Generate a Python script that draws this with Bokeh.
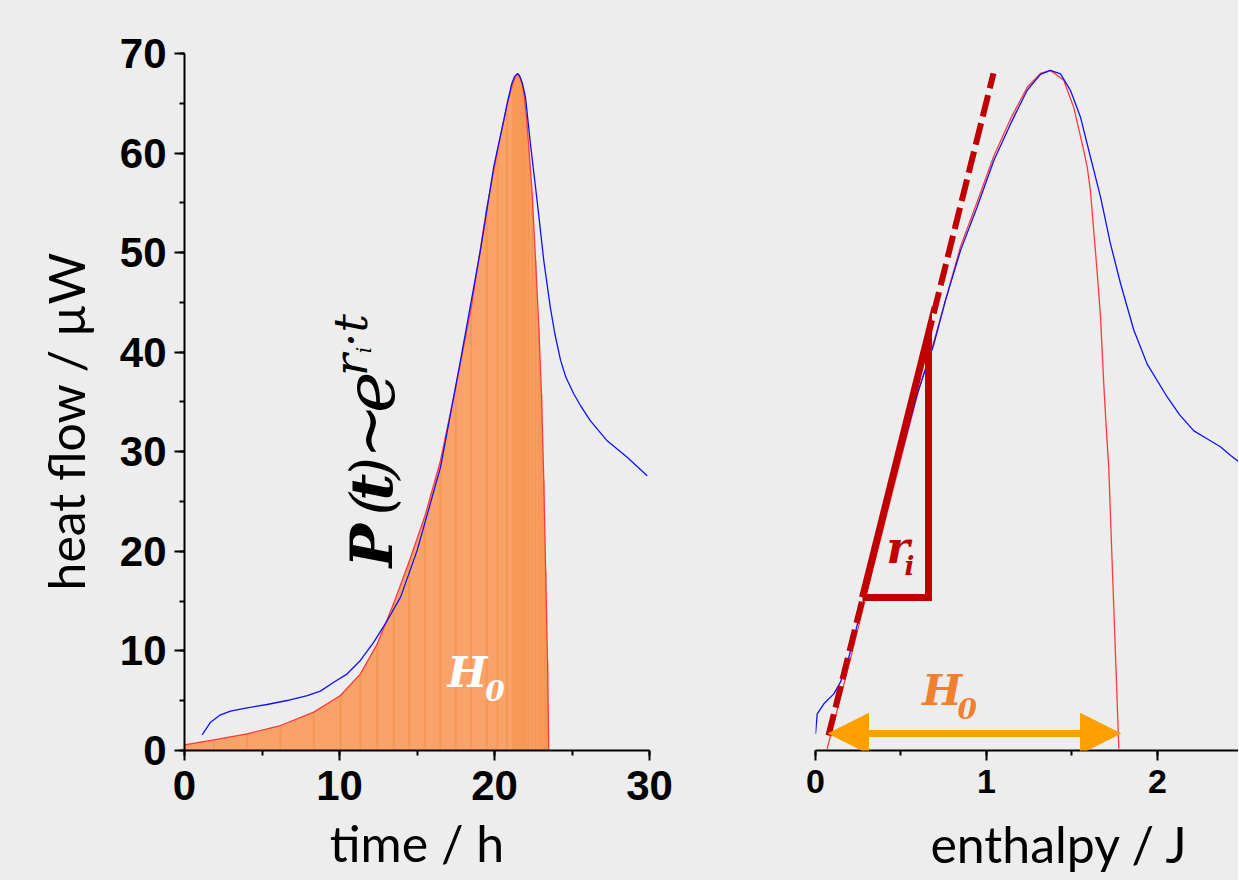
import math
from bokeh.plotting import figure
from bokeh.layouts import row, column
from bokeh.models import Arrow, NormalHead, Range1d, SingleIntervalTicker
from bokeh.embed import file_html
from bokeh.resources import INLINE
from bokeh.core.properties import value

BG = "#ecedec"
BLUE = "#1010ff"
RED = "#ff3a3a"
FILL = "#f9a36a"
DARKRED = "#c00000"
ORANGE = "#ffa000"
HORANGE = "#f08030"

# ---------------- left panel: heat flow vs time ----------------
blue_t = [1.14, 1.68, 2.32, 2.97, 4.04, 5.33, 6.62, 7.92, 8.77, 9.63, 10.5, 11.35, 12.21, 13.08,
          13.94, 15.01, 16.52, 17.81, 19.1, 19.95, 20.6, 20.85, 21.1, 21.3, 21.46, 21.6, 21.8,
          22.0, 22.32, 22.75, 23.18, 23.6, 23.9, 24.26, 24.6, 25.12, 25.6, 26.19, 27.27, 28.56,
          29.85]
blue_p = [1.58, 2.84, 3.58, 3.95, 4.28, 4.62, 5.02, 5.52, 5.96, 6.86, 7.7, 9.04, 10.88, 13.05,
          15.4, 20.1, 28.45, 39.2, 50.3, 58.6, 63.3, 65.2, 66.9, 67.7, 67.95, 67.8, 67.0,
          65.6, 60.9, 55.2, 49.2, 44.5, 41.8, 39.2, 37.5, 35.8, 34.5, 33.1, 31.1, 29.45,
          27.6]

red_t = [0.0, 1.89, 4.04, 6.19, 8.34, 10.06, 11.35, 12.43, 13.5, 14.5, 15.5, 16.5, 17.5, 18.5,
         19.5, 20.2, 20.8, 21.2, 21.35, 21.5, 21.65, 21.8, 21.9, 22.05, 22.2, 22.43, 22.65,
         22.86, 23.03, 23.18, 23.3, 23.42, 23.5]
red_p = [0.57, 1.07, 1.67, 2.51, 3.85, 5.52, 7.7, 10.7, 14.8, 19.0, 23.5, 29.0, 36.5, 44.5,
         54.5, 60.3, 64.8, 67.1, 67.7, 68.0, 67.6, 66.8, 66.0, 63.8, 60.9, 55.9, 49.2,
         42.5, 35.8, 27.1, 18.0, 9.0, 0.0]

# ---------------- right panel: heat flow vs enthalpy ----------------
blue_h = [0.0, 0.01, 0.049, 0.107, 0.146, 0.185, 0.283, 0.439, 0.595, 0.692, 0.76, 0.848, 0.946,
          1.043, 1.14, 1.238, 1.316, 1.374, 1.433, 1.491, 1.55, 1.608, 1.667, 1.725, 1.784,
          1.862, 1.94, 2.057, 2.13, 2.213, 2.29, 2.368, 2.43, 2.48]
blue_hp = [1.67, 3.68, 4.69, 5.69, 6.86, 8.7, 15.2, 25.8, 35.8, 40.8, 45.2, 50.2, 54.6,
           59.25, 62.9, 66.3, 67.9, 68.3, 67.95, 66.3, 63.6, 59.6, 55.6, 50.9, 46.9,
           42.2, 38.8, 35.5, 33.7, 32.1, 31.3, 30.5, 29.6, 28.95]

red_h = [0.068, 0.2, 0.3, 0.45, 0.6, 0.7, 0.848, 0.946, 1.043, 1.14, 1.238, 1.316, 1.374, 1.452,
         1.51, 1.569, 1.59, 1.608, 1.637, 1.652, 1.667, 1.686, 1.70, 1.715, 1.74, 1.76, 1.774]
red_hp = [0.17, 8.9, 15.8, 26.0, 36.0, 41.5, 50.6, 55.1, 59.7, 63.4, 66.6, 68.0, 68.3, 67.3,
          64.6, 60.25, 58.5, 56.2, 50.2, 47.0, 43.5, 36.8, 32.5, 28.45, 16.5, 7.0, 0.17]

slope_h = [0.076, 1.041]
slope_p = [1.5, 68.0]
tri_h = [0.275, 0.661, 0.661, 0.275]
tri_p = [15.37, 41.88, 15.37, 15.37]
arrow_h = [0.076, 1.784]
arrow_p = 1.71

y_range = Range1d(0, 71.3)
x2_range = Range1d(0, 2.474)


def style(p):
    p.background_fill_color = BG
    p.border_fill_color = BG
    p.outline_line_color = None
    p.grid.grid_line_color = None
    for ax in p.axis:
        ax.axis_line_width = 2
        ax.axis_line_color = "black"
        ax.major_tick_line_width = 2
        ax.minor_tick_line_width = 2
        ax.major_tick_in = 0
        ax.major_tick_out = 10
        ax.minor_tick_in = 0
        ax.minor_tick_out = 5
        ax.major_label_text_font = "Liberation Sans"
        ax.major_label_text_font_style = "bold"
        ax.major_label_text_color = "black"
        ax.axis_label_text_font = "Lato"
        ax.axis_label_text_font_style = "normal"
        ax.axis_label_text_color = "black"


def blank(w, h, xr, yr):
    f = figure(width=w, height=h, x_range=xr, y_range=yr,
               output_backend="svg", toolbar_location=None, x_axis_location=None,
               y_axis_location=None, min_border=0)
    f.background_fill_color = BG
    f.border_fill_color = BG
    f.outline_line_color = None
    f.grid.grid_line_color = None
    return f


# ---- y-axis title strip (shares the y range of the panels) ----
lab1 = blank(100, 880, Range1d(0, 100), y_range)
lab1.text(x=[65], y=[16.07], text=["heat flow / µW"], angle=math.pi / 2,
          text_font=value("Lato"), text_font_size="50px", text_align="left",
          text_baseline="middle", text_color="black")

# ---- left figure ----
p1 = figure(width=589, height=880, x_range=Range1d(0, 30), y_range=y_range,
            output_backend="svg", toolbar_location=None,
            min_border_left=84, min_border_right=40, min_border_top=40, min_border_bottom=130)
style(p1)
p1.xaxis.ticker = SingleIntervalTicker(interval=10, num_minor_ticks=2)
p1.yaxis.ticker = SingleIntervalTicker(interval=10, num_minor_ticks=2)
p1.yaxis.bounds = (0, 70)
p1.axis.major_label_text_font_size = "42px"
p1.yaxis.major_label_standoff = 8
p1.xaxis.major_label_standoff = 10
p1.xaxis.axis_label = "time / h"
p1.xaxis.axis_label_text_font_size = "50px"
p1.xaxis.axis_label_standoff = 10

p1.varea(x=red_t, y1=[0] * len(red_t), y2=red_p, fill_color=FILL, fill_alpha=1.0)
p1.segment(x0=red_t, y0=[0] * len(red_t), x1=red_t, y1=red_p, line_color="#f7924c",
           line_width=2, line_alpha=0.7)
p1.line(red_t, red_p, line_color=RED, line_width=1.3)
p1.line(blue_t, blue_p, line_color=BLUE, line_width=1.3)

serif = value("DejaVu Serif")
p1.text(x=[12.1, 12.1, 12.1, 12.1, 11.95, 11.9], y=[18.38, 23.6, 25.1, 27.2, 29.3, 33.9],
        text=["P", "(", "t", ")", "~", "e"], angle=math.pi / 2, text_font=serif,
        text_font_style=["bold italic", "italic", "bold italic", "italic", "italic", "italic"],
        text_font_size=["58px", "58px", "58px", "58px", "66px", "70px"], text_align="left",
        text_baseline="alphabetic", text_color="black")
p1.text(x=[10.71, 11.61, 10.71], y=[37.6, 39.9, 40.5], text=["r", "i", "·t"],
        angle=math.pi / 2, text_font=serif, text_font_style="italic",
        text_font_size=["46px", "20px", "46px"], text_align="left",
        text_baseline="alphabetic", text_color="black")
p1.text(x=[16.97, 19.4], y=[7.83, 6.02], text=["H", "0"], text_font=serif,
        text_font_style="bold italic", text_font_size=["42px", "28px"], text_align="left",
        text_baseline="alphabetic", text_color="white")

# ---- right figure ----
p2 = figure(width=549, height=810, x_range=x2_range, y_range=y_range,
            output_backend="svg", toolbar_location=None, y_axis_location=None,
            min_border_left=126, min_border_right=0, min_border_top=40, min_border_bottom=60)
style(p2)
p2.xaxis.ticker = SingleIntervalTicker(interval=1, num_minor_ticks=2)
p2.xaxis.major_label_text_font_size = "34px"
p2.xaxis.major_label_standoff = 9

p2.line(red_h, red_hp, line_color=RED, line_width=1.3)
p2.line(blue_h, blue_hp, line_color=BLUE, line_width=1.3)
p2.line(slope_h, slope_p, line_color=DARKRED, line_width=6, line_dash="22 7")
p2.line(tri_h, tri_p, line_color=DARKRED, line_width=7, line_join="miter")
p2.add_layout(Arrow(start=NormalHead(size=40, fill_color=ORANGE, line_color=ORANGE),
                    end=NormalHead(size=40, fill_color=ORANGE, line_color=ORANGE),
                    x_start=arrow_h[0], y_start=arrow_p, x_end=arrow_h[1], y_end=arrow_p,
                    line_color=ORANGE, line_width=7))
p2.text(x=[0.415, 0.52], y=[20.4, 18.5], text=["r", "i"], text_font=serif,
        text_font_style="bold italic", text_font_size=["44px", "26px"], text_align="left",
        text_baseline="alphabetic", text_color=DARKRED)
p2.text(x=[0.625, 0.83], y=[6.02, 4.21], text=["H", "0"], text_font=serif,
        text_font_style="bold italic", text_font_size=["42px", "28px"], text_align="left",
        text_baseline="alphabetic", text_color=HORANGE)

# ---- x-axis title strip for the right panel (shares the enthalpy range) ----
lab2 = blank(549, 70, x2_range, Range1d(0, 70))
lab2.text(x=[0.672], y=[37], text=["enthalpy / J"], text_font=value("Lato"),
          text_font_size="50px", text_align="left", text_baseline="middle",
          text_color="black")

layout = row(lab1, p1, column(p2, lab2, spacing=0), spacing=0)
layout.styles = {"background-color": BG}
open("out.html", "w").write(file_html(layout, INLINE))
